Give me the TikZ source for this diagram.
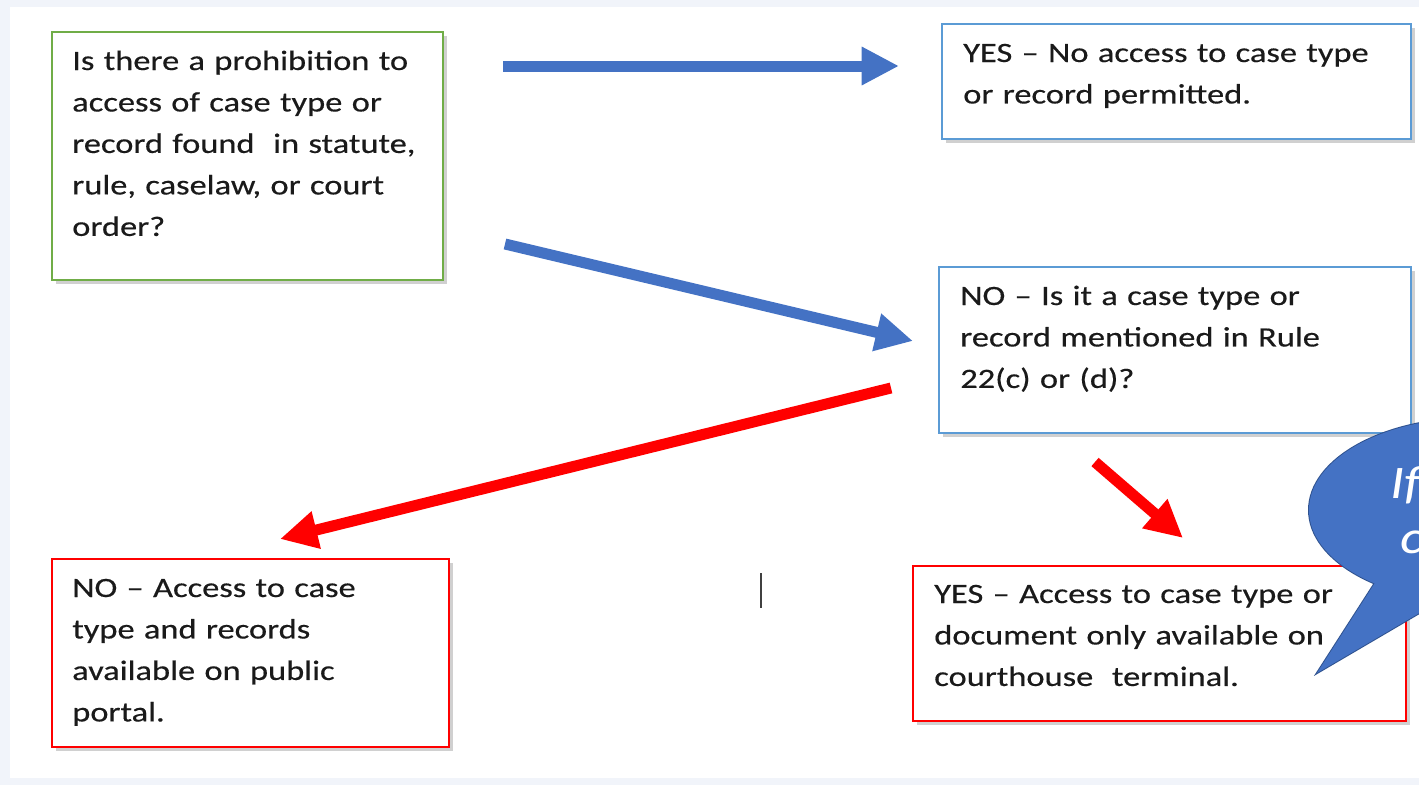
\documentclass[tikz,border=0pt]{standalone}
\usepackage{fontspec}
\setmainfont{Carlito}
\newfontfamily\boxfont[FakeStretch=1.23,FakeBold=0.4]{Carlito}
\newfontfamily\bubfont[FakeStretch=1.2]{Carlito}
\usetikzlibrary{arrows.meta,shadows}
\definecolor{pagebg}{HTML}{F1F4FA}
\definecolor{grn}{HTML}{70AD47}
\definecolor{lblue}{HTML}{5B9BD5}
\definecolor{aroblue}{HTML}{4472C4}
\definecolor{bubline}{HTML}{2F528F}
\definecolor{txt}{HTML}{1A1A1A}
\tikzset{
  box/.style={draw, line width=1.2pt, fill=white, inner sep=0pt,
    drop shadow={shadow xshift=3pt, shadow yshift=-3pt, opacity=0.3, fill=black!60}},
  greenbox/.style={box, draw=grn},
  bluebox/.style={box, draw=lblue},
  redbox/.style={box, draw=red},
  boxtext/.style={anchor=base west, inner sep=0pt, text width=560pt, align=left,
    text=txt, font=\boxfont\fontsize{21pt}{31.1pt}\selectfont},
  bigarrow/.style={line width=8.25pt, -{Triangle[length=28pt, width=27pt]}},
  bubtext/.style={anchor=base west, inner sep=0pt, text=white,
    font=\bubfont\itshape\fontsize{35pt}{40pt}\selectfont}
}
\begin{document}
\begin{tikzpicture}[x=0.75pt, y=-0.75pt]
\useasboundingbox (0,0) rectangle (1419,785);
\fill[pagebg] (0,0) rectangle (1419,785);
\fill[white] (10,7) rectangle (1419,778);

% boxes
\node[greenbox, minimum width=293.25pt, minimum height=186pt, anchor=north west] (b1) at (51,31) {};
\node[bluebox, minimum width=351.75pt, minimum height=86.25pt, anchor=north west] (b2) at (941,23) {};
\node[bluebox, minimum width=354pt, minimum height=124.5pt, anchor=north west] (b3) at (938,266) {};
\node[redbox, minimum width=297.75pt, minimum height=141pt, anchor=north west] (b4) at (51,558) {};
\node[redbox, minimum width=369.75pt, minimum height=116.25pt, anchor=north west] (b5) at (912,565) {};

% texts
\node[boxtext] (t1) at (72,70) {Is there a prohibition to\\access of case type or\\record found\ \ in statute,\\rule, caselaw, or court\\order?};
\node[boxtext] (t2) at (963,62) {YES – No access to case type\\or record permitted.};
\node[boxtext] (t3) at (960,305) {NO – Is it a case type or\\record mentioned in Rule\\22(c) or (d)?};
\node[boxtext] (t4) at (72,597) {NO – Access to case\\type and records\\available on public\\portal.};
\node[boxtext] (t5) at (934,603) {YES – Access to case type or\\document only available on\\courthouse\ \ terminal.};

% arrow end points
\coordinate (a1s) at (503,66);  \coordinate (a1e) at (899,66);
\coordinate (a2s) at (505,244); \coordinate (a2e) at (913,341);
\coordinate (a3s) at (891,388); \coordinate (a3e) at (280,539);
\coordinate (a4s) at (1095,462); \coordinate (a4e) at (1183,538);

\draw[bigarrow, aroblue] (a1s) -- (a1e);
\draw[bigarrow, aroblue] (a2s) -- (a2e);
\draw[bigarrow, red] (a3s) -- (a3e);
\draw[bigarrow, red] (a4s) -- (a4e);

% text cursor
\coordinate (c1) at (761,573); \coordinate (c2) at (761,608);
\draw[line width=1.8pt, black!75] (c1) -- (c2);

% speech bubble
\begin{scope}
\clip (0,0) rectangle (1419,785);
\draw[bubline, line width=1.5pt] (1474,510) ellipse [x radius=165, y radius=92];
\draw[bubline, line width=1.5pt, line join=miter] (1380,575) -- (1317,673) -- (1450,595) -- cycle;
\fill[aroblue] (1474,510) ellipse [x radius=165, y radius=92];
\fill[aroblue] (1380,575) -- (1317,673) -- (1450,595) -- cycle;
\node[bubtext] (bt1) at (1390,498) {If};
\node[bubtext] (bt2) at (1400,553) {c};
\end{scope}
\end{tikzpicture}
\end{document}
